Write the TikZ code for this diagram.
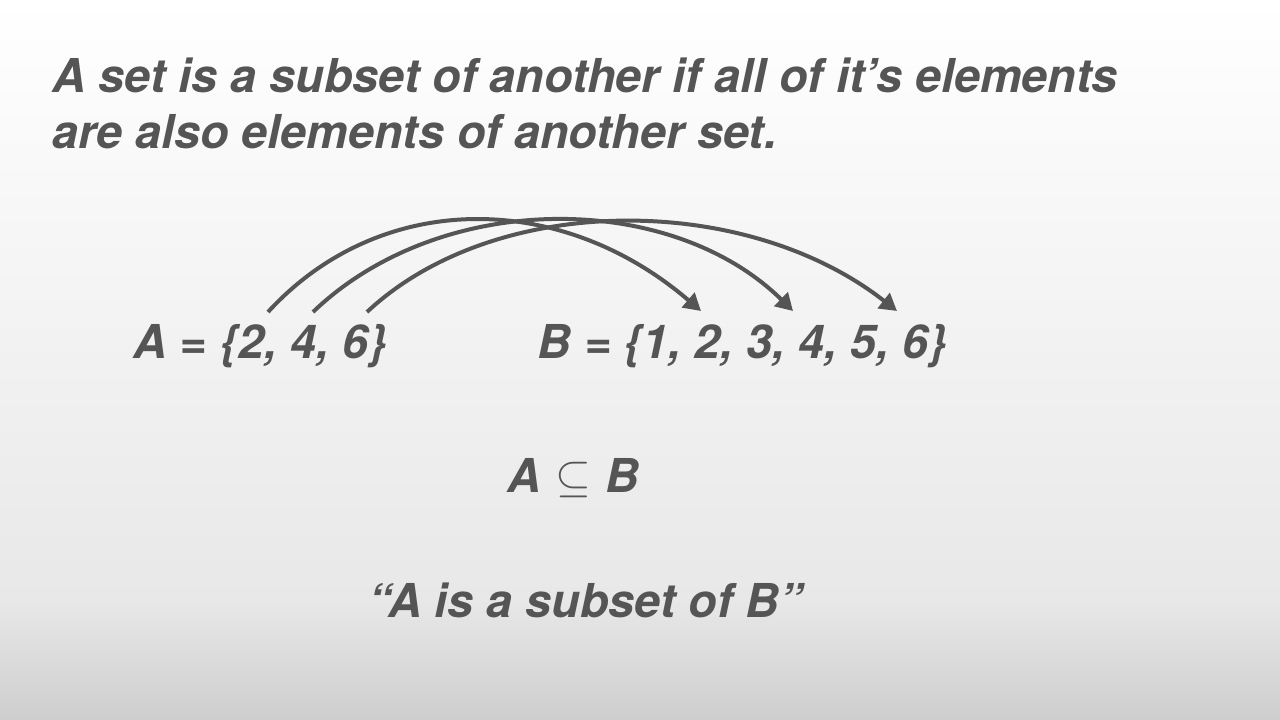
\RequirePackage{fix-cm}
\documentclass[tikz,border=0pt]{standalone}
\usepackage{fontspec}
\setmainfont{TeX Gyre Heros}
\usetikzlibrary{arrows.meta, positioning}
\definecolor{slate}{RGB}{85,85,85}
\definecolor{paper}{RGB}{232,232,232}
\definecolor{paperdark}{RGB}{206,206,206}

\begin{document}
\begin{tikzpicture}[
    x=1pt, y=-1pt,
    slidetext/.style={font=\fontsize{46.7}{56}\selectfont\bfseries\itshape, text=slate, inner sep=0pt, anchor=base west},
    mapsto/.style={-{Triangle[length=17pt,width=19pt]}, line width=4pt, draw=slate},
]
    % Background
    \useasboundingbox (0,0) rectangle (1280,720);
    \shade[top color=white, bottom color=paper] (0,0) rectangle (1280,600);
    \shade[top color=paper, bottom color=paperdark] (0,599) rectangle (1280,720);

    % Definition
    \node[slidetext] (def1) at (52,92) {A set is a subset of another if all of it’s elements};
    \node[slidetext] (def2) at (52,148) {are also elements of another set.};

    % Sets
    \node[slidetext] (Aset) at (133,358) {A = \{2, 4, 6\}};
    \node[slidetext, base right=151pt of Aset] (Bset) {B = \{1, 2, 3, 4, 5, 6\}};

    % Element ends
    \coordinate (a2) at (268,312);
    \coordinate (a4) at (313,312);
    \coordinate (a6) at (367,312);
    \coordinate (b2) at (701,311);
    \coordinate (b4) at (793,311);
    \coordinate (b6) at (897,311);

    % Arrows
    \draw[mapsto] (a2) .. controls (380,190) and (560,190) .. (b2);
    \draw[mapsto] (a4) .. controls (440,190) and (670,190) .. (b4);
    \draw[mapsto] (a6) .. controls (495,192) and (745,192) .. (b6);

    % Notation
    \node[slidetext] (subs) at (507,492) {A\hspace{15pt}\raisebox{1pt}{\fontsize{46}{46}\selectfont$\subseteq$}\hspace{14pt}B};
    \node[slidetext] (read) at (368,617) {“A is a subset of B”};

\end{tikzpicture}
\end{document}
